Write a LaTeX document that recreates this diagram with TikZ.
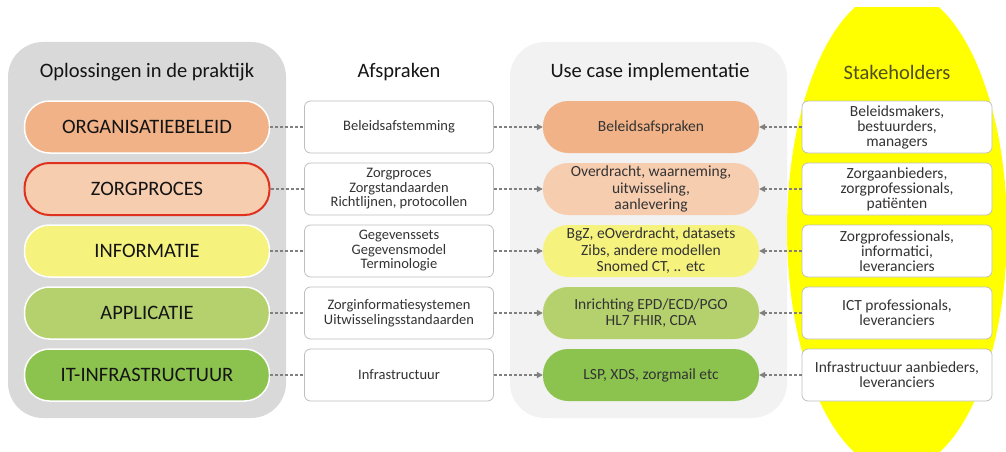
\documentclass[tikz,border=0pt]{standalone}
\usepackage{fontspec}
\setmainfont{Carlito}
\usetikzlibrary{arrows.meta}

\definecolor{paneldark}{HTML}{D9D9D9}
\definecolor{panellight}{HTML}{F2F2F2}
\definecolor{stakeyellow}{HTML}{FFFF00}
\definecolor{stakeText}{HTML}{4F4F1E}
\definecolor{beleid}{HTML}{F1B287}
\definecolor{proces}{HTML}{F7CDB0}
\definecolor{procesrand}{HTML}{E0311E}
\definecolor{info}{HTML}{F5F27E}
\definecolor{appl}{HTML}{B5D16D}
\definecolor{infra}{HTML}{8CC34F}
\definecolor{boxrand}{HTML}{BFBFBF}
\definecolor{txtdark}{HTML}{141414}
\definecolor{txtgray}{HTML}{333333}
\definecolor{lijn}{HTML}{808080}

\begin{document}
\begin{tikzpicture}[x=1pt,y=-1pt,
    title/.style={font=\fontsize{20.5}{24}\selectfont,text=txtdark},
    pill/.style={rectangle,rounded corners=25pt,minimum height=52pt,align=center},
    lpill/.style={pill,minimum width=245pt,draw=white,line width=1.5pt,
      font=\fontsize{20.5}{24}\selectfont,text=txtdark},
    mpill/.style={pill,minimum width=216pt,inner sep=0pt,
      font=\fontsize{15.5}{16.5}\selectfont,text=txtgray},
    afbox/.style={rectangle,rounded corners=6pt,draw=boxrand,line width=.8pt,fill=white,
      minimum width=189pt,minimum height=52pt,align=center,inner sep=1pt,
      font=\fontsize{14.5}{14.5}\selectfont,text=txtgray},
    stbox/.style={afbox,minimum width=190pt,font=\fontsize{15.5}{15}\selectfont},
    dashline/.style={draw=lijn,line width=1.1pt,dash pattern=on 3pt off 2pt},
    dasharrow/.style={dashline,-{Triangle[length=6pt,width=6pt]}}]
    \useasboundingbox (0,0) rectangle (1006,452);

    % panels
    \fill[paneldark,rounded corners=35pt] (8,42) rectangle (286,418);
    \fill[panellight,rounded corners=35pt] (510,42) rectangle (787,418);
    \begin{scope}
    \clip (0,8) rectangle (1006,452);
    \fill[stakeyellow] (897,230) ellipse (110pt and 241pt);
    \end{scope}

    % titles
    \node[title] (t1) at (147,72) {Oplossingen in de praktijk};
    \node[title] (t2) at (399,72) {Afspraken};
    \node[title] (t3) at (650,72) {Use case implementatie};
    \node[title,text=stakeText] (t4) at (897,72) {Stakeholders};

    % oplossingen in de praktijk
    \node[lpill,fill=beleid] (l1) at (147,127) {ORGANISATIEBELEID};
    \node[lpill,fill=proces,draw=procesrand,line width=2pt] (l2) at (147,189) {ZORGPROCES};
    \node[lpill,fill=info] (l3) at (147,251) {INFORMATIE};
    \node[lpill,fill=appl] (l4) at (147,313) {APPLICATIE};
    \node[lpill,fill=infra] (l5) at (147,375) {IT-INFRASTRUCTUUR};

    % afspraken
    \node[afbox] (a1) at (399,127) {Beleidsafstemming};
    \node[afbox] (a2) at (399,189) {Zorgproces\\Zorgstandaarden\\Richtlijnen, protocollen};
    \node[afbox] (a3) at (399,251) {Gegevenssets\\Gegevensmodel\\Terminologie};
    \node[afbox] (a4) at (399,313) {Zorginformatiesystemen\\Uitwisselingsstandaarden};
    \node[afbox] (a5) at (399,375) {Infrastructuur};

    % use case implementatie
    \node[mpill,fill=beleid] (m1) at (651,127) {Beleidsafspraken};
    \node[mpill,fill=proces] (m2) at (651,189) {Overdracht, waarneming,\\uitwisseling,\\aanlevering};
    \node[mpill,fill=info] (m3) at (651,251) {BgZ, eOverdracht, datasets\\Zibs, andere modellen\\Snomed CT, .. etc};
    \node[mpill,fill=appl] (m4) at (651,313) {Inrichting EPD/ECD/PGO\\HL7 FHIR, CDA};
    \node[mpill,fill=infra] (m5) at (651,375) {LSP, XDS, zorgmail etc};

    % stakeholders
    \node[stbox] (s1) at (897,127) {Beleidsmakers,\\bestuurders,\\managers};
    \node[stbox] (s2) at (897,189) {Zorgaanbieders,\\zorgprofessionals,\\patiënten};
    \node[stbox] (s3) at (897,251) {Zorgprofessionals,\\informatici,\\leveranciers};
    \node[stbox] (s4) at (897,313) {ICT professionals,\\leveranciers};
    \node[stbox] (s5) at (897,375) {Infrastructuur aanbieders,\\leveranciers};

    \foreach \i in {1,...,5}
    {
    \draw[dashline] (l\i) -- (a\i);
    \draw[dasharrow] (a\i) -- (m\i);
    \draw[dasharrow] (s\i) -- (m\i);
    }
\end{tikzpicture}
\end{document}
